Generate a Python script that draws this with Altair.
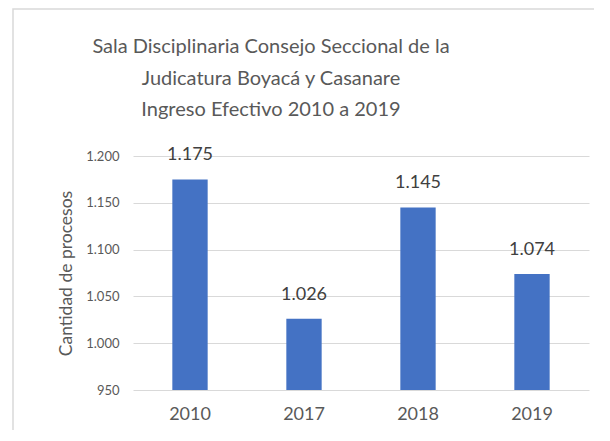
import altair as alt
import pandas as pd

years = ["2010", "2017", "2018", "2019"]
values = [1175, 1026, 1145, 1074]
title_lines = [
    "Sala Disciplinaria Consejo Seccional de la",
    "Judicatura Boyacá y Casanare",
    "Ingreso Efectivo 2010 a 2019",
]
y_min, y_max = 950, 1200

df = pd.DataFrame({"year": years, "value": values})

FONT = "Lato"
TXT = "#595959"

x_enc = alt.X("year:N", sort=years,
              scale=alt.Scale(paddingInner=0.69, paddingOuter=0.345),
              axis=alt.Axis(title=None, labelAngle=0, labelFontSize=18, labelColor=TXT,
                            labelFont=FONT, ticks=False, domain=False, labelPadding=15))
y_enc = alt.Y("value:Q",
              scale=alt.Scale(domain=[y_min, y_max], nice=False, zero=False),
              axis=alt.Axis(title="Cantidad de procesos", values=list(range(950, 1201, 50)),
                            labelExpr="replace(format(datum.value, ','), ',', '.')",
                            labelFontSize=13, labelColor=TXT, labelFont=FONT,
                            titleFontSize=17.5, titleColor=TXT, titleFont=FONT,
                            titleFontWeight="normal", titlePadding=10,
                            ticks=False, domain=False, labelPadding=14,
                            grid=True, gridColor="#D9D9D9", gridWidth=1.2))

base = alt.Chart(df)

frame = base.mark_rect(fill=None, stroke="#D9D9D9", strokeWidth=1.5, clip=False).encode(
    x=alt.value(-120), x2=alt.value(470), y=alt.value(-147), y2=alt.value(300)
).transform_filter("datum.year == '2010'")

bars = base.mark_bar(color="#4472C4").encode(
    x=x_enc, y=y_enc, y2=alt.datum(y_min)
)

labels = base.mark_text(baseline="middle", dy=-24, fontSize=18, font=FONT, color="#404040").transform_calculate(
    lbl="replace(format(datum.value, ','), ',', '.')"
).encode(x="year:N", y="value:Q", text="lbl:N")

title_marks = []
for i, line in enumerate(title_lines):
    title_marks.append(
        alt.Chart(pd.DataFrame({"t": [line]})).mark_text(
            fontSize=20, font=FONT, color=TXT, baseline="middle", align="center"
        ).encode(x=alt.value(138), y=alt.value(-109 + 31.5 * i), text="t:N")
    )

chart = alt.layer(frame, bars, labels, *title_marks).properties(
    width=456, height=234,
    padding={"left": 125, "top": 148, "right": 5, "bottom": 40},
    autosize=alt.AutoSizeParams(type="none"),
    background="white",
).configure_view(stroke=None)

chart.save("out.html", embed_options={"renderer": "svg", "actions": False})
